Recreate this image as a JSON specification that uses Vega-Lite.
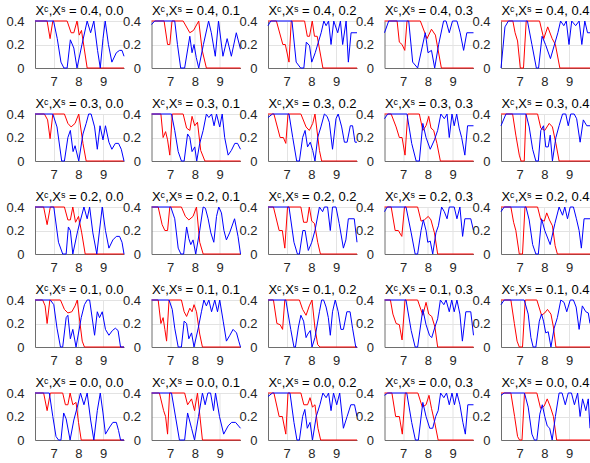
{
"$schema": "https://vega.github.io/schema/vega-lite/v6.json",
"padding": {"left": 5, "top": 5, "right": 0, "bottom": 0},
"bounds": "flush",
"data": {"values": [
{"p":"0.4, 0.0","k":"a","x":6.25,"y":0.4},{"p":"0.4, 0.0","k":"a","x":6.74,"y":0.4},{"p":"0.4, 0.0","k":"a","x":6.86,"y":0.25},{"p":"0.4, 0.0","k":"a","x":6.97,"y":0.4},{"p":"0.4, 0.0","k":"a","x":7.55,"y":0.4},{"p":"0.4, 0.0","k":"a","x":7.71,"y":0.3},{"p":"0.4, 0.0","k":"a","x":7.82,"y":0.3},{"p":"0.4, 0.0","k":"a","x":7.95,"y":0.4},{"p":"0.4, 0.0","k":"a","x":8.04,"y":0.28},{"p":"0.4, 0.0","k":"a","x":8.13,"y":0.32},{"p":"0.4, 0.0","k":"a","x":8.36,"y":0},{"p":"0.4, 0.0","k":"a","x":9.85,"y":0},
{"p":"0.4, 0.0","k":"b","x":6.25,"y":0.4},{"p":"0.4, 0.0","k":"b","x":7.0,"y":0.4},{"p":"0.4, 0.0","k":"b","x":7.15,"y":0.25},{"p":"0.4, 0.0","k":"b","x":7.3,"y":0.05},{"p":"0.4, 0.0","k":"b","x":7.42,"y":0},{"p":"0.4, 0.0","k":"b","x":7.55,"y":0},{"p":"0.4, 0.0","k":"b","x":7.68,"y":0.24},{"p":"0.4, 0.0","k":"b","x":7.82,"y":0.17},{"p":"0.4, 0.0","k":"b","x":7.95,"y":0},{"p":"0.4, 0.0","k":"b","x":8.15,"y":0.2},{"p":"0.4, 0.0","k":"b","x":8.36,"y":0.4},{"p":"0.4, 0.0","k":"b","x":8.5,"y":0.3},{"p":"0.4, 0.0","k":"b","x":8.63,"y":0.4},{"p":"0.4, 0.0","k":"b","x":8.78,"y":0.15},{"p":"0.4, 0.0","k":"b","x":8.89,"y":0},{"p":"0.4, 0.0","k":"b","x":9.0,"y":0.25},{"p":"0.4, 0.0","k":"b","x":9.09,"y":0.4},{"p":"0.4, 0.0","k":"b","x":9.22,"y":0.2},{"p":"0.4, 0.0","k":"b","x":9.36,"y":0.05},{"p":"0.4, 0.0","k":"b","x":9.54,"y":0.13},{"p":"0.4, 0.0","k":"b","x":9.67,"y":0.15},{"p":"0.4, 0.0","k":"b","x":9.77,"y":0.15},{"p":"0.4, 0.0","k":"b","x":9.85,"y":0.1},

{"p":"0.4, 0.1","k":"a","x":6.25,"y":0.4},{"p":"0.4, 0.1","k":"a","x":6.76,"y":0.4},{"p":"0.4, 0.1","k":"a","x":6.9,"y":0.2},{"p":"0.4, 0.1","k":"a","x":6.99,"y":0.2},{"p":"0.4, 0.1","k":"a","x":7.08,"y":0.4},{"p":"0.4, 0.1","k":"a","x":7.53,"y":0.4},{"p":"0.4, 0.1","k":"a","x":7.8,"y":0.3},{"p":"0.4, 0.1","k":"a","x":7.95,"y":0.32},{"p":"0.4, 0.1","k":"a","x":8.16,"y":0.4},{"p":"0.4, 0.1","k":"a","x":8.3,"y":0.15},{"p":"0.4, 0.1","k":"a","x":8.47,"y":0},{"p":"0.4, 0.1","k":"a","x":9.85,"y":0},
{"p":"0.4, 0.1","k":"b","x":6.25,"y":0.37},{"p":"0.4, 0.1","k":"b","x":6.38,"y":0.4},{"p":"0.4, 0.1","k":"b","x":7.19,"y":0.4},{"p":"0.4, 0.1","k":"b","x":7.3,"y":0.2},{"p":"0.4, 0.1","k":"b","x":7.43,"y":0},{"p":"0.4, 0.1","k":"b","x":7.59,"y":0},{"p":"0.4, 0.1","k":"b","x":7.8,"y":0.27},{"p":"0.4, 0.1","k":"b","x":7.89,"y":0.13},{"p":"0.4, 0.1","k":"b","x":7.97,"y":0.2},{"p":"0.4, 0.1","k":"b","x":8.06,"y":0.09},{"p":"0.4, 0.1","k":"b","x":8.16,"y":0},{"p":"0.4, 0.1","k":"b","x":8.35,"y":0.2},{"p":"0.4, 0.1","k":"b","x":8.56,"y":0.4},{"p":"0.4, 0.1","k":"b","x":8.67,"y":0.3},{"p":"0.4, 0.1","k":"b","x":8.83,"y":0.1},{"p":"0.4, 0.1","k":"b","x":8.96,"y":0.4},{"p":"0.4, 0.1","k":"b","x":9.14,"y":0.1},{"p":"0.4, 0.1","k":"b","x":9.31,"y":0.25},{"p":"0.4, 0.1","k":"b","x":9.48,"y":0.1},{"p":"0.4, 0.1","k":"b","x":9.68,"y":0.3},{"p":"0.4, 0.1","k":"b","x":9.85,"y":0.16},

{"p":"0.4, 0.2","k":"a","x":6.25,"y":0.4},{"p":"0.4, 0.2","k":"a","x":6.59,"y":0.4},{"p":"0.4, 0.2","k":"a","x":6.85,"y":0.2},{"p":"0.4, 0.2","k":"a","x":6.95,"y":0.2},{"p":"0.4, 0.2","k":"a","x":7.1,"y":0.05},{"p":"0.4, 0.2","k":"a","x":7.19,"y":0.4},{"p":"0.4, 0.2","k":"a","x":7.73,"y":0.4},{"p":"0.4, 0.2","k":"a","x":7.84,"y":0.27},{"p":"0.4, 0.2","k":"a","x":7.93,"y":0.27},{"p":"0.4, 0.2","k":"a","x":8.04,"y":0.4},{"p":"0.4, 0.2","k":"a","x":8.13,"y":0.27},{"p":"0.4, 0.2","k":"a","x":8.24,"y":0.27},{"p":"0.4, 0.2","k":"a","x":8.47,"y":0},{"p":"0.4, 0.2","k":"a","x":9.85,"y":0},
{"p":"0.4, 0.2","k":"b","x":6.25,"y":0.36},{"p":"0.4, 0.2","k":"b","x":6.36,"y":0.4},{"p":"0.4, 0.2","k":"b","x":7.22,"y":0.4},{"p":"0.4, 0.2","k":"b","x":7.39,"y":0.05},{"p":"0.4, 0.2","k":"b","x":7.57,"y":0},{"p":"0.4, 0.2","k":"b","x":7.7,"y":0},{"p":"0.4, 0.2","k":"b","x":7.8,"y":0.22},{"p":"0.4, 0.2","k":"b","x":7.93,"y":0.19},{"p":"0.4, 0.2","k":"b","x":8.02,"y":0.05},{"p":"0.4, 0.2","k":"b","x":8.16,"y":0.13},{"p":"0.4, 0.2","k":"b","x":8.4,"y":0.3},{"p":"0.4, 0.2","k":"b","x":8.51,"y":0.4},{"p":"0.4, 0.2","k":"b","x":8.6,"y":0.36},{"p":"0.4, 0.2","k":"b","x":8.7,"y":0.4},{"p":"0.4, 0.2","k":"b","x":8.8,"y":0.2},{"p":"0.4, 0.2","k":"b","x":8.91,"y":0.4},{"p":"0.4, 0.2","k":"b","x":9.07,"y":0.3},{"p":"0.4, 0.2","k":"b","x":9.18,"y":0.4},{"p":"0.4, 0.2","k":"b","x":9.27,"y":0.2},{"p":"0.4, 0.2","k":"b","x":9.41,"y":0.4},{"p":"0.4, 0.2","k":"b","x":9.5,"y":0.05},{"p":"0.4, 0.2","k":"b","x":9.61,"y":0.3},{"p":"0.4, 0.2","k":"b","x":9.85,"y":0.3},

{"p":"0.4, 0.3","k":"a","x":6.25,"y":0.4},{"p":"0.4, 0.3","k":"a","x":6.76,"y":0.4},{"p":"0.4, 0.3","k":"a","x":6.85,"y":0.22},{"p":"0.4, 0.3","k":"a","x":6.96,"y":0.2},{"p":"0.4, 0.3","k":"a","x":7.07,"y":0.15},{"p":"0.4, 0.3","k":"a","x":7.16,"y":0.4},{"p":"0.4, 0.3","k":"a","x":7.7,"y":0.4},{"p":"0.4, 0.3","k":"a","x":7.97,"y":0.25},{"p":"0.4, 0.3","k":"a","x":8.15,"y":0.33},{"p":"0.4, 0.3","k":"a","x":8.31,"y":0.28},{"p":"0.4, 0.3","k":"a","x":8.55,"y":0},{"p":"0.4, 0.3","k":"a","x":9.85,"y":0},
{"p":"0.4, 0.3","k":"b","x":6.25,"y":0.3},{"p":"0.4, 0.3","k":"b","x":6.42,"y":0.4},{"p":"0.4, 0.3","k":"b","x":7.23,"y":0.4},{"p":"0.4, 0.3","k":"b","x":7.39,"y":0.05},{"p":"0.4, 0.3","k":"b","x":7.59,"y":0},{"p":"0.4, 0.3","k":"b","x":7.9,"y":0.3},{"p":"0.4, 0.3","k":"b","x":8.01,"y":0.13},{"p":"0.4, 0.3","k":"b","x":8.15,"y":0.15},{"p":"0.4, 0.3","k":"b","x":8.28,"y":0},{"p":"0.4, 0.3","k":"b","x":8.44,"y":0.2},{"p":"0.4, 0.3","k":"b","x":8.64,"y":0.4},{"p":"0.4, 0.3","k":"b","x":8.74,"y":0.4},{"p":"0.4, 0.3","k":"b","x":8.87,"y":0.3},{"p":"0.4, 0.3","k":"b","x":9.0,"y":0.4},{"p":"0.4, 0.3","k":"b","x":9.18,"y":0.4},{"p":"0.4, 0.3","k":"b","x":9.31,"y":0.3},{"p":"0.4, 0.3","k":"b","x":9.45,"y":0.15},{"p":"0.4, 0.3","k":"b","x":9.58,"y":0.3},{"p":"0.4, 0.3","k":"b","x":9.85,"y":0.3},

{"p":"0.4, 0.4","k":"a","x":6.25,"y":0.4},{"p":"0.4, 0.4","k":"a","x":6.73,"y":0.4},{"p":"0.4, 0.4","k":"a","x":6.82,"y":0.3},{"p":"0.4, 0.4","k":"a","x":6.92,"y":0.23},{"p":"0.4, 0.4","k":"a","x":7.03,"y":0},{"p":"0.4, 0.4","k":"a","x":7.16,"y":0},{"p":"0.4, 0.4","k":"a","x":7.27,"y":0.4},{"p":"0.4, 0.4","k":"a","x":7.81,"y":0.4},{"p":"0.4, 0.4","k":"a","x":7.98,"y":0.25},{"p":"0.4, 0.4","k":"a","x":8.14,"y":0.35},{"p":"0.4, 0.4","k":"a","x":8.32,"y":0.25},{"p":"0.4, 0.4","k":"a","x":8.45,"y":0.2},{"p":"0.4, 0.4","k":"a","x":8.63,"y":0},{"p":"0.4, 0.4","k":"a","x":9.85,"y":0},
{"p":"0.4, 0.4","k":"b","x":6.25,"y":0},{"p":"0.4, 0.4","k":"b","x":6.41,"y":0.35},{"p":"0.4, 0.4","k":"b","x":6.55,"y":0.4},{"p":"0.4, 0.4","k":"b","x":7.32,"y":0.4},{"p":"0.4, 0.4","k":"b","x":7.5,"y":0.2},{"p":"0.4, 0.4","k":"b","x":7.68,"y":0},{"p":"0.4, 0.4","k":"b","x":7.77,"y":0},{"p":"0.4, 0.4","k":"b","x":7.91,"y":0.27},{"p":"0.4, 0.4","k":"b","x":8.05,"y":0.2},{"p":"0.4, 0.4","k":"b","x":8.25,"y":0.08},{"p":"0.4, 0.4","k":"b","x":8.55,"y":0.3},{"p":"0.4, 0.4","k":"b","x":8.66,"y":0.4},{"p":"0.4, 0.4","k":"b","x":8.79,"y":0.36},{"p":"0.4, 0.4","k":"b","x":8.89,"y":0.4},{"p":"0.4, 0.4","k":"b","x":9.0,"y":0.2},{"p":"0.4, 0.4","k":"b","x":9.11,"y":0.4},{"p":"0.4, 0.4","k":"b","x":9.27,"y":0.36},{"p":"0.4, 0.4","k":"b","x":9.41,"y":0.4},{"p":"0.4, 0.4","k":"b","x":9.52,"y":0.2},{"p":"0.4, 0.4","k":"b","x":9.64,"y":0.4},{"p":"0.4, 0.4","k":"b","x":9.75,"y":0.3},{"p":"0.4, 0.4","k":"b","x":9.85,"y":0.3},

{"p":"0.3, 0.0","k":"a","x":6.25,"y":0.4},{"p":"0.3, 0.0","k":"a","x":6.63,"y":0.4},{"p":"0.3, 0.0","k":"a","x":6.76,"y":0.35},{"p":"0.3, 0.0","k":"a","x":6.86,"y":0.19},{"p":"0.3, 0.0","k":"a","x":6.97,"y":0.4},{"p":"0.3, 0.0","k":"a","x":7.44,"y":0.4},{"p":"0.3, 0.0","k":"a","x":7.58,"y":0.32},{"p":"0.3, 0.0","k":"a","x":7.71,"y":0.29},{"p":"0.3, 0.0","k":"a","x":7.87,"y":0.32},{"p":"0.3, 0.0","k":"a","x":8.02,"y":0.4},{"p":"0.3, 0.0","k":"a","x":8.19,"y":0.15},{"p":"0.3, 0.0","k":"a","x":8.32,"y":0},{"p":"0.3, 0.0","k":"a","x":9.85,"y":0},
{"p":"0.3, 0.0","k":"b","x":6.25,"y":0.4},{"p":"0.3, 0.0","k":"b","x":6.97,"y":0.4},{"p":"0.3, 0.0","k":"b","x":7.14,"y":0.29},{"p":"0.3, 0.0","k":"b","x":7.33,"y":0},{"p":"0.3, 0.0","k":"b","x":7.44,"y":0},{"p":"0.3, 0.0","k":"b","x":7.58,"y":0.2},{"p":"0.3, 0.0","k":"b","x":7.68,"y":0.26},{"p":"0.3, 0.0","k":"b","x":7.79,"y":0.08},{"p":"0.3, 0.0","k":"b","x":7.87,"y":0.13},{"p":"0.3, 0.0","k":"b","x":8.02,"y":0},{"p":"0.3, 0.0","k":"b","x":8.19,"y":0.23},{"p":"0.3, 0.0","k":"b","x":8.32,"y":0.32},{"p":"0.3, 0.0","k":"b","x":8.42,"y":0.4},{"p":"0.3, 0.0","k":"b","x":8.52,"y":0.4},{"p":"0.3, 0.0","k":"b","x":8.66,"y":0.29},{"p":"0.3, 0.0","k":"b","x":8.77,"y":0.1},{"p":"0.3, 0.0","k":"b","x":8.88,"y":0.3},{"p":"0.3, 0.0","k":"b","x":9.0,"y":0.18},{"p":"0.3, 0.0","k":"b","x":9.1,"y":0.3},{"p":"0.3, 0.0","k":"b","x":9.24,"y":0.16},{"p":"0.3, 0.0","k":"b","x":9.36,"y":0.1},{"p":"0.3, 0.0","k":"b","x":9.5,"y":0.15},{"p":"0.3, 0.0","k":"b","x":9.63,"y":0.15},{"p":"0.3, 0.0","k":"b","x":9.74,"y":0.1},{"p":"0.3, 0.0","k":"b","x":9.85,"y":0},

{"p":"0.3, 0.1","k":"a","x":6.25,"y":0.4},{"p":"0.3, 0.1","k":"a","x":6.63,"y":0.4},{"p":"0.3, 0.1","k":"a","x":6.72,"y":0.2},{"p":"0.3, 0.1","k":"a","x":6.82,"y":0.25},{"p":"0.3, 0.1","k":"a","x":6.9,"y":0.18},{"p":"0.3, 0.1","k":"a","x":6.99,"y":0.05},{"p":"0.3, 0.1","k":"a","x":7.09,"y":0.4},{"p":"0.3, 0.1","k":"a","x":7.53,"y":0.4},{"p":"0.3, 0.1","k":"a","x":7.67,"y":0.28},{"p":"0.3, 0.1","k":"a","x":7.8,"y":0.26},{"p":"0.3, 0.1","k":"a","x":7.89,"y":0.38},{"p":"0.3, 0.1","k":"a","x":8.0,"y":0.3},{"p":"0.3, 0.1","k":"a","x":8.11,"y":0.33},{"p":"0.3, 0.1","k":"a","x":8.24,"y":0.09},{"p":"0.3, 0.1","k":"a","x":8.41,"y":0},{"p":"0.3, 0.1","k":"a","x":9.85,"y":0},
{"p":"0.3, 0.1","k":"b","x":6.25,"y":0.4},{"p":"0.3, 0.1","k":"b","x":7.06,"y":0.4},{"p":"0.3, 0.1","k":"b","x":7.19,"y":0.26},{"p":"0.3, 0.1","k":"b","x":7.33,"y":0.08},{"p":"0.3, 0.1","k":"b","x":7.46,"y":0},{"p":"0.3, 0.1","k":"b","x":7.57,"y":0},{"p":"0.3, 0.1","k":"b","x":7.71,"y":0.23},{"p":"0.3, 0.1","k":"b","x":7.8,"y":0.2},{"p":"0.3, 0.1","k":"b","x":7.89,"y":0.08},{"p":"0.3, 0.1","k":"b","x":8.0,"y":0.12},{"p":"0.3, 0.1","k":"b","x":8.08,"y":0},{"p":"0.3, 0.1","k":"b","x":8.2,"y":0.15},{"p":"0.3, 0.1","k":"b","x":8.34,"y":0.26},{"p":"0.3, 0.1","k":"b","x":8.47,"y":0.4},{"p":"0.3, 0.1","k":"b","x":8.57,"y":0.37},{"p":"0.3, 0.1","k":"b","x":8.68,"y":0.4},{"p":"0.3, 0.1","k":"b","x":8.78,"y":0.3},{"p":"0.3, 0.1","k":"b","x":8.88,"y":0.4},{"p":"0.3, 0.1","k":"b","x":9.01,"y":0.29},{"p":"0.3, 0.1","k":"b","x":9.11,"y":0.4},{"p":"0.3, 0.1","k":"b","x":9.21,"y":0.2},{"p":"0.3, 0.1","k":"b","x":9.35,"y":0.05},{"p":"0.3, 0.1","k":"b","x":9.48,"y":0.09},{"p":"0.3, 0.1","k":"b","x":9.62,"y":0.15},{"p":"0.3, 0.1","k":"b","x":9.73,"y":0.15},{"p":"0.3, 0.1","k":"b","x":9.85,"y":0.1},

{"p":"0.3, 0.2","k":"a","x":6.25,"y":0.4},{"p":"0.3, 0.2","k":"a","x":6.49,"y":0.4},{"p":"0.3, 0.2","k":"a","x":6.74,"y":0.2},{"p":"0.3, 0.2","k":"a","x":6.87,"y":0.2},{"p":"0.3, 0.2","k":"a","x":6.97,"y":0.15},{"p":"0.3, 0.2","k":"a","x":7.06,"y":0.4},{"p":"0.3, 0.2","k":"a","x":7.58,"y":0.4},{"p":"0.3, 0.2","k":"a","x":7.79,"y":0.29},{"p":"0.3, 0.2","k":"a","x":7.92,"y":0.26},{"p":"0.3, 0.2","k":"a","x":8.06,"y":0.32},{"p":"0.3, 0.2","k":"a","x":8.15,"y":0.4},{"p":"0.3, 0.2","k":"a","x":8.33,"y":0.09},{"p":"0.3, 0.2","k":"a","x":8.42,"y":0},{"p":"0.3, 0.2","k":"a","x":9.85,"y":0},
{"p":"0.3, 0.2","k":"b","x":6.25,"y":0.37},{"p":"0.3, 0.2","k":"b","x":6.43,"y":0.4},{"p":"0.3, 0.2","k":"b","x":7.1,"y":0.4},{"p":"0.3, 0.2","k":"b","x":7.25,"y":0.2},{"p":"0.3, 0.2","k":"b","x":7.41,"y":0},{"p":"0.3, 0.2","k":"b","x":7.52,"y":0},{"p":"0.3, 0.2","k":"b","x":7.65,"y":0.2},{"p":"0.3, 0.2","k":"b","x":7.75,"y":0.26},{"p":"0.3, 0.2","k":"b","x":7.85,"y":0.12},{"p":"0.3, 0.2","k":"b","x":7.96,"y":0.16},{"p":"0.3, 0.2","k":"b","x":8.06,"y":0.09},{"p":"0.3, 0.2","k":"b","x":8.15,"y":0},{"p":"0.3, 0.2","k":"b","x":8.26,"y":0.2},{"p":"0.3, 0.2","k":"b","x":8.39,"y":0.29},{"p":"0.3, 0.2","k":"b","x":8.53,"y":0.4},{"p":"0.3, 0.2","k":"b","x":8.64,"y":0.38},{"p":"0.3, 0.2","k":"b","x":8.73,"y":0.33},{"p":"0.3, 0.2","k":"b","x":8.86,"y":0.1},{"p":"0.3, 0.2","k":"b","x":9.0,"y":0.36},{"p":"0.3, 0.2","k":"b","x":9.09,"y":0.4},{"p":"0.3, 0.2","k":"b","x":9.23,"y":0.29},{"p":"0.3, 0.2","k":"b","x":9.34,"y":0.16},{"p":"0.3, 0.2","k":"b","x":9.45,"y":0.16},{"p":"0.3, 0.2","k":"b","x":9.58,"y":0.3},{"p":"0.3, 0.2","k":"b","x":9.67,"y":0.3},{"p":"0.3, 0.2","k":"b","x":9.77,"y":0.16},{"p":"0.3, 0.2","k":"b","x":9.85,"y":0.16},

{"p":"0.3, 0.3","k":"a","x":6.25,"y":0.4},{"p":"0.3, 0.3","k":"a","x":6.52,"y":0.4},{"p":"0.3, 0.3","k":"a","x":6.72,"y":0.29},{"p":"0.3, 0.3","k":"a","x":6.85,"y":0.2},{"p":"0.3, 0.3","k":"a","x":6.96,"y":0.2},{"p":"0.3, 0.3","k":"a","x":7.08,"y":0.05},{"p":"0.3, 0.3","k":"a","x":7.19,"y":0.4},{"p":"0.3, 0.3","k":"a","x":7.66,"y":0.4},{"p":"0.3, 0.3","k":"a","x":7.8,"y":0.26},{"p":"0.3, 0.3","k":"a","x":7.93,"y":0.3},{"p":"0.3, 0.3","k":"a","x":8.04,"y":0.38},{"p":"0.3, 0.3","k":"a","x":8.13,"y":0.28},{"p":"0.3, 0.3","k":"a","x":8.24,"y":0.26},{"p":"0.3, 0.3","k":"a","x":8.37,"y":0.15},{"p":"0.3, 0.3","k":"a","x":8.51,"y":0},{"p":"0.3, 0.3","k":"a","x":9.85,"y":0},
{"p":"0.3, 0.3","k":"b","x":6.25,"y":0.36},{"p":"0.3, 0.3","k":"b","x":6.38,"y":0.4},{"p":"0.3, 0.3","k":"b","x":7.16,"y":0.4},{"p":"0.3, 0.3","k":"b","x":7.35,"y":0.15},{"p":"0.3, 0.3","k":"b","x":7.53,"y":0},{"p":"0.3, 0.3","k":"b","x":7.66,"y":0},{"p":"0.3, 0.3","k":"b","x":7.8,"y":0.32},{"p":"0.3, 0.3","k":"b","x":7.93,"y":0.2},{"p":"0.3, 0.3","k":"b","x":8.1,"y":0.1},{"p":"0.3, 0.3","k":"b","x":8.27,"y":0.18},{"p":"0.3, 0.3","k":"b","x":8.4,"y":0.26},{"p":"0.3, 0.3","k":"b","x":8.53,"y":0.4},{"p":"0.3, 0.3","k":"b","x":8.67,"y":0.36},{"p":"0.3, 0.3","k":"b","x":8.78,"y":0.4},{"p":"0.3, 0.3","k":"b","x":8.87,"y":0.2},{"p":"0.3, 0.3","k":"b","x":8.98,"y":0.4},{"p":"0.3, 0.3","k":"b","x":9.07,"y":0.3},{"p":"0.3, 0.3","k":"b","x":9.17,"y":0.4},{"p":"0.3, 0.3","k":"b","x":9.27,"y":0.28},{"p":"0.3, 0.3","k":"b","x":9.37,"y":0.2},{"p":"0.3, 0.3","k":"b","x":9.5,"y":0.05},{"p":"0.3, 0.3","k":"b","x":9.61,"y":0.3},{"p":"0.3, 0.3","k":"b","x":9.85,"y":0.3},

{"p":"0.3, 0.4","k":"a","x":6.25,"y":0.4},{"p":"0.3, 0.4","k":"a","x":6.72,"y":0.4},{"p":"0.3, 0.4","k":"a","x":6.85,"y":0.22},{"p":"0.3, 0.4","k":"a","x":6.99,"y":0.05},{"p":"0.3, 0.4","k":"a","x":7.06,"y":0},{"p":"0.3, 0.4","k":"a","x":7.19,"y":0},{"p":"0.3, 0.4","k":"a","x":7.26,"y":0.4},{"p":"0.3, 0.4","k":"a","x":7.73,"y":0.4},{"p":"0.3, 0.4","k":"a","x":7.86,"y":0.28},{"p":"0.3, 0.4","k":"a","x":8.02,"y":0.26},{"p":"0.3, 0.4","k":"a","x":8.2,"y":0.32},{"p":"0.3, 0.4","k":"a","x":8.33,"y":0.29},{"p":"0.3, 0.4","k":"a","x":8.47,"y":0.15},{"p":"0.3, 0.4","k":"a","x":8.6,"y":0},{"p":"0.3, 0.4","k":"a","x":9.85,"y":0},
{"p":"0.3, 0.4","k":"b","x":6.25,"y":0.3},{"p":"0.3, 0.4","k":"b","x":6.45,"y":0.4},{"p":"0.3, 0.4","k":"b","x":7.26,"y":0.4},{"p":"0.3, 0.4","k":"b","x":7.39,"y":0.29},{"p":"0.3, 0.4","k":"b","x":7.53,"y":0.1},{"p":"0.3, 0.4","k":"b","x":7.66,"y":0},{"p":"0.3, 0.4","k":"b","x":7.76,"y":0},{"p":"0.3, 0.4","k":"b","x":7.86,"y":0.26},{"p":"0.3, 0.4","k":"b","x":7.97,"y":0.3},{"p":"0.3, 0.4","k":"b","x":8.06,"y":0.12},{"p":"0.3, 0.4","k":"b","x":8.16,"y":0.12},{"p":"0.3, 0.4","k":"b","x":8.24,"y":0.22},{"p":"0.3, 0.4","k":"b","x":8.33,"y":0},{"p":"0.3, 0.4","k":"b","x":8.47,"y":0.2},{"p":"0.3, 0.4","k":"b","x":8.6,"y":0.3},{"p":"0.3, 0.4","k":"b","x":8.74,"y":0.4},{"p":"0.3, 0.4","k":"b","x":8.87,"y":0.4},{"p":"0.3, 0.4","k":"b","x":8.97,"y":0.3},{"p":"0.3, 0.4","k":"b","x":9.07,"y":0.4},{"p":"0.3, 0.4","k":"b","x":9.21,"y":0.4},{"p":"0.3, 0.4","k":"b","x":9.31,"y":0.36},{"p":"0.3, 0.4","k":"b","x":9.45,"y":0.16},{"p":"0.3, 0.4","k":"b","x":9.58,"y":0.35},{"p":"0.3, 0.4","k":"b","x":9.72,"y":0.3},{"p":"0.3, 0.4","k":"b","x":9.85,"y":0.3},

{"p":"0.2, 0.0","k":"a","x":6.25,"y":0.4},{"p":"0.2, 0.0","k":"a","x":6.6,"y":0.4},{"p":"0.2, 0.0","k":"a","x":6.74,"y":0.25},{"p":"0.2, 0.0","k":"a","x":6.87,"y":0.4},{"p":"0.2, 0.0","k":"a","x":7.44,"y":0.4},{"p":"0.2, 0.0","k":"a","x":7.58,"y":0.29},{"p":"0.2, 0.0","k":"a","x":7.68,"y":0.29},{"p":"0.2, 0.0","k":"a","x":7.78,"y":0.4},{"p":"0.2, 0.0","k":"a","x":7.89,"y":0.27},{"p":"0.2, 0.0","k":"a","x":8.01,"y":0.32},{"p":"0.2, 0.0","k":"a","x":8.14,"y":0.18},{"p":"0.2, 0.0","k":"a","x":8.28,"y":0},{"p":"0.2, 0.0","k":"a","x":9.85,"y":0},
{"p":"0.2, 0.0","k":"b","x":6.25,"y":0.4},{"p":"0.2, 0.0","k":"b","x":7.01,"y":0.4},{"p":"0.2, 0.0","k":"b","x":7.2,"y":0.1},{"p":"0.2, 0.0","k":"b","x":7.37,"y":0},{"p":"0.2, 0.0","k":"b","x":7.51,"y":0},{"p":"0.2, 0.0","k":"b","x":7.6,"y":0.23},{"p":"0.2, 0.0","k":"b","x":7.68,"y":0.2},{"p":"0.2, 0.0","k":"b","x":7.78,"y":0},{"p":"0.2, 0.0","k":"b","x":7.98,"y":0.2},{"p":"0.2, 0.0","k":"b","x":8.23,"y":0.4},{"p":"0.2, 0.0","k":"b","x":8.36,"y":0.3},{"p":"0.2, 0.0","k":"b","x":8.46,"y":0.4},{"p":"0.2, 0.0","k":"b","x":8.59,"y":0.18},{"p":"0.2, 0.0","k":"b","x":8.75,"y":0},{"p":"0.2, 0.0","k":"b","x":8.97,"y":0.4},{"p":"0.2, 0.0","k":"b","x":9.1,"y":0.2},{"p":"0.2, 0.0","k":"b","x":9.24,"y":0.05},{"p":"0.2, 0.0","k":"b","x":9.4,"y":0.12},{"p":"0.2, 0.0","k":"b","x":9.54,"y":0.15},{"p":"0.2, 0.0","k":"b","x":9.67,"y":0.15},{"p":"0.2, 0.0","k":"b","x":9.77,"y":0.1},{"p":"0.2, 0.0","k":"b","x":9.85,"y":0},

{"p":"0.2, 0.1","k":"a","x":6.25,"y":0.4},{"p":"0.2, 0.1","k":"a","x":6.52,"y":0.4},{"p":"0.2, 0.1","k":"a","x":6.68,"y":0.25},{"p":"0.2, 0.1","k":"a","x":6.79,"y":0.2},{"p":"0.2, 0.1","k":"a","x":6.9,"y":0.2},{"p":"0.2, 0.1","k":"a","x":6.99,"y":0.4},{"p":"0.2, 0.1","k":"a","x":7.46,"y":0.4},{"p":"0.2, 0.1","k":"a","x":7.62,"y":0.32},{"p":"0.2, 0.1","k":"a","x":7.76,"y":0.29},{"p":"0.2, 0.1","k":"a","x":7.93,"y":0.32},{"p":"0.2, 0.1","k":"a","x":8.07,"y":0.4},{"p":"0.2, 0.1","k":"a","x":8.2,"y":0.1},{"p":"0.2, 0.1","k":"a","x":8.34,"y":0},{"p":"0.2, 0.1","k":"a","x":9.85,"y":0},
{"p":"0.2, 0.1","k":"b","x":6.25,"y":0.4},{"p":"0.2, 0.1","k":"b","x":7.03,"y":0.4},{"p":"0.2, 0.1","k":"b","x":7.19,"y":0.3},{"p":"0.2, 0.1","k":"b","x":7.33,"y":0.05},{"p":"0.2, 0.1","k":"b","x":7.44,"y":0},{"p":"0.2, 0.1","k":"b","x":7.55,"y":0},{"p":"0.2, 0.1","k":"b","x":7.67,"y":0.23},{"p":"0.2, 0.1","k":"b","x":7.76,"y":0.13},{"p":"0.2, 0.1","k":"b","x":7.84,"y":0.08},{"p":"0.2, 0.1","k":"b","x":7.93,"y":0.12},{"p":"0.2, 0.1","k":"b","x":8.04,"y":0},{"p":"0.2, 0.1","k":"b","x":8.2,"y":0.2},{"p":"0.2, 0.1","k":"b","x":8.34,"y":0.4},{"p":"0.2, 0.1","k":"b","x":8.43,"y":0.39},{"p":"0.2, 0.1","k":"b","x":8.54,"y":0.3},{"p":"0.2, 0.1","k":"b","x":8.65,"y":0.18},{"p":"0.2, 0.1","k":"b","x":8.77,"y":0.1},{"p":"0.2, 0.1","k":"b","x":8.88,"y":0.32},{"p":"0.2, 0.1","k":"b","x":8.97,"y":0.4},{"p":"0.2, 0.1","k":"b","x":9.08,"y":0.35},{"p":"0.2, 0.1","k":"b","x":9.18,"y":0.2},{"p":"0.2, 0.1","k":"b","x":9.28,"y":0.12},{"p":"0.2, 0.1","k":"b","x":9.41,"y":0.18},{"p":"0.2, 0.1","k":"b","x":9.61,"y":0.3},{"p":"0.2, 0.1","k":"b","x":9.75,"y":0.15},{"p":"0.2, 0.1","k":"b","x":9.85,"y":0},

{"p":"0.2, 0.2","k":"a","x":6.25,"y":0.4},{"p":"0.2, 0.2","k":"a","x":6.47,"y":0.4},{"p":"0.2, 0.2","k":"a","x":6.7,"y":0.2},{"p":"0.2, 0.2","k":"a","x":6.83,"y":0.2},{"p":"0.2, 0.2","k":"a","x":6.93,"y":0.05},{"p":"0.2, 0.2","k":"a","x":7.04,"y":0.4},{"p":"0.2, 0.2","k":"a","x":7.58,"y":0.4},{"p":"0.2, 0.2","k":"a","x":7.69,"y":0.27},{"p":"0.2, 0.2","k":"a","x":7.83,"y":0.27},{"p":"0.2, 0.2","k":"a","x":7.92,"y":0.4},{"p":"0.2, 0.2","k":"a","x":8.02,"y":0.28},{"p":"0.2, 0.2","k":"a","x":8.13,"y":0.26},{"p":"0.2, 0.2","k":"a","x":8.26,"y":0.1},{"p":"0.2, 0.2","k":"a","x":8.37,"y":0},{"p":"0.2, 0.2","k":"a","x":9.85,"y":0},
{"p":"0.2, 0.2","k":"b","x":6.25,"y":0.4},{"p":"0.2, 0.2","k":"b","x":7.1,"y":0.4},{"p":"0.2, 0.2","k":"b","x":7.3,"y":0.1},{"p":"0.2, 0.2","k":"b","x":7.44,"y":0},{"p":"0.2, 0.2","k":"b","x":7.52,"y":0},{"p":"0.2, 0.2","k":"b","x":7.66,"y":0.2},{"p":"0.2, 0.2","k":"b","x":7.75,"y":0.2},{"p":"0.2, 0.2","k":"b","x":7.88,"y":0.03},{"p":"0.2, 0.2","k":"b","x":8.02,"y":0.1},{"p":"0.2, 0.2","k":"b","x":8.15,"y":0.2},{"p":"0.2, 0.2","k":"b","x":8.33,"y":0.4},{"p":"0.2, 0.2","k":"b","x":8.46,"y":0.36},{"p":"0.2, 0.2","k":"b","x":8.53,"y":0.4},{"p":"0.2, 0.2","k":"b","x":8.66,"y":0.4},{"p":"0.2, 0.2","k":"b","x":8.77,"y":0.2},{"p":"0.2, 0.2","k":"b","x":8.86,"y":0.4},{"p":"0.2, 0.2","k":"b","x":9.0,"y":0.4},{"p":"0.2, 0.2","k":"b","x":9.13,"y":0.26},{"p":"0.2, 0.2","k":"b","x":9.3,"y":0.05},{"p":"0.2, 0.2","k":"b","x":9.4,"y":0.12},{"p":"0.2, 0.2","k":"b","x":9.5,"y":0.3},{"p":"0.2, 0.2","k":"b","x":9.74,"y":0.3},{"p":"0.2, 0.2","k":"b","x":9.85,"y":0.1},

{"p":"0.2, 0.3","k":"a","x":6.25,"y":0.4},{"p":"0.2, 0.3","k":"a","x":6.52,"y":0.4},{"p":"0.2, 0.3","k":"a","x":6.68,"y":0.2},{"p":"0.2, 0.3","k":"a","x":6.81,"y":0.2},{"p":"0.2, 0.3","k":"a","x":6.95,"y":0.15},{"p":"0.2, 0.3","k":"a","x":7.06,"y":0.4},{"p":"0.2, 0.3","k":"a","x":7.59,"y":0.4},{"p":"0.2, 0.3","k":"a","x":7.73,"y":0.28},{"p":"0.2, 0.3","k":"a","x":7.86,"y":0.29},{"p":"0.2, 0.3","k":"a","x":8.02,"y":0.32},{"p":"0.2, 0.3","k":"a","x":8.13,"y":0.29},{"p":"0.2, 0.3","k":"a","x":8.27,"y":0.18},{"p":"0.2, 0.3","k":"a","x":8.4,"y":0},{"p":"0.2, 0.3","k":"a","x":9.85,"y":0},
{"p":"0.2, 0.3","k":"b","x":6.25,"y":0.36},{"p":"0.2, 0.3","k":"b","x":6.36,"y":0.4},{"p":"0.2, 0.3","k":"b","x":7.12,"y":0.4},{"p":"0.2, 0.3","k":"b","x":7.33,"y":0.18},{"p":"0.2, 0.3","k":"b","x":7.49,"y":0},{"p":"0.2, 0.3","k":"b","x":7.59,"y":0},{"p":"0.2, 0.3","k":"b","x":7.73,"y":0.2},{"p":"0.2, 0.3","k":"b","x":7.82,"y":0.29},{"p":"0.2, 0.3","k":"b","x":7.93,"y":0.2},{"p":"0.2, 0.3","k":"b","x":8.0,"y":0.1},{"p":"0.2, 0.3","k":"b","x":8.1,"y":0.11},{"p":"0.2, 0.3","k":"b","x":8.2,"y":0},{"p":"0.2, 0.3","k":"b","x":8.33,"y":0.18},{"p":"0.2, 0.3","k":"b","x":8.43,"y":0.24},{"p":"0.2, 0.3","k":"b","x":8.56,"y":0.4},{"p":"0.2, 0.3","k":"b","x":8.67,"y":0.36},{"p":"0.2, 0.3","k":"b","x":8.78,"y":0.3},{"p":"0.2, 0.3","k":"b","x":8.87,"y":0.4},{"p":"0.2, 0.3","k":"b","x":9.07,"y":0.4},{"p":"0.2, 0.3","k":"b","x":9.18,"y":0.3},{"p":"0.2, 0.3","k":"b","x":9.3,"y":0.4},{"p":"0.2, 0.3","k":"b","x":9.41,"y":0.15},{"p":"0.2, 0.3","k":"b","x":9.5,"y":0.3},{"p":"0.2, 0.3","k":"b","x":9.74,"y":0.3},{"p":"0.2, 0.3","k":"b","x":9.85,"y":0.2},

{"p":"0.2, 0.4","k":"a","x":6.25,"y":0.4},{"p":"0.2, 0.4","k":"a","x":6.65,"y":0.4},{"p":"0.2, 0.4","k":"a","x":6.76,"y":0.27},{"p":"0.2, 0.4","k":"a","x":6.85,"y":0.2},{"p":"0.2, 0.4","k":"a","x":6.99,"y":0},{"p":"0.2, 0.4","k":"a","x":7.12,"y":0},{"p":"0.2, 0.4","k":"a","x":7.22,"y":0.4},{"p":"0.2, 0.4","k":"a","x":7.73,"y":0.4},{"p":"0.2, 0.4","k":"a","x":7.86,"y":0.29},{"p":"0.2, 0.4","k":"a","x":8.0,"y":0.28},{"p":"0.2, 0.4","k":"a","x":8.1,"y":0.35},{"p":"0.2, 0.4","k":"a","x":8.21,"y":0.29},{"p":"0.2, 0.4","k":"a","x":8.33,"y":0.24},{"p":"0.2, 0.4","k":"a","x":8.44,"y":0.07},{"p":"0.2, 0.4","k":"a","x":8.53,"y":0},{"p":"0.2, 0.4","k":"a","x":9.85,"y":0},
{"p":"0.2, 0.4","k":"b","x":6.25,"y":0.36},{"p":"0.2, 0.4","k":"b","x":6.38,"y":0.4},{"p":"0.2, 0.4","k":"b","x":7.26,"y":0.4},{"p":"0.2, 0.4","k":"b","x":7.39,"y":0.29},{"p":"0.2, 0.4","k":"b","x":7.53,"y":0.08},{"p":"0.2, 0.4","k":"b","x":7.66,"y":0},{"p":"0.2, 0.4","k":"b","x":7.76,"y":0},{"p":"0.2, 0.4","k":"b","x":7.89,"y":0.3},{"p":"0.2, 0.4","k":"b","x":8.02,"y":0.2},{"p":"0.2, 0.4","k":"b","x":8.24,"y":0.08},{"p":"0.2, 0.4","k":"b","x":8.43,"y":0.26},{"p":"0.2, 0.4","k":"b","x":8.6,"y":0.4},{"p":"0.2, 0.4","k":"b","x":8.74,"y":0.33},{"p":"0.2, 0.4","k":"b","x":8.83,"y":0.4},{"p":"0.2, 0.4","k":"b","x":8.94,"y":0.3},{"p":"0.2, 0.4","k":"b","x":9.05,"y":0.4},{"p":"0.2, 0.4","k":"b","x":9.18,"y":0.4},{"p":"0.2, 0.4","k":"b","x":9.3,"y":0.3},{"p":"0.2, 0.4","k":"b","x":9.41,"y":0.2},{"p":"0.2, 0.4","k":"b","x":9.5,"y":0.05},{"p":"0.2, 0.4","k":"b","x":9.61,"y":0.3},{"p":"0.2, 0.4","k":"b","x":9.85,"y":0.3},

{"p":"0.1, 0.0","k":"a","x":6.25,"y":0.4},{"p":"0.1, 0.0","k":"a","x":6.56,"y":0.4},{"p":"0.1, 0.0","k":"a","x":6.66,"y":0.35},{"p":"0.1, 0.0","k":"a","x":6.74,"y":0.2},{"p":"0.1, 0.0","k":"a","x":6.85,"y":0.4},{"p":"0.1, 0.0","k":"a","x":7.28,"y":0.4},{"p":"0.1, 0.0","k":"a","x":7.44,"y":0.32},{"p":"0.1, 0.0","k":"a","x":7.58,"y":0.29},{"p":"0.1, 0.0","k":"a","x":7.74,"y":0.3},{"p":"0.1, 0.0","k":"a","x":7.87,"y":0.35},{"p":"0.1, 0.0","k":"a","x":7.96,"y":0.4},{"p":"0.1, 0.0","k":"a","x":8.06,"y":0.22},{"p":"0.1, 0.0","k":"a","x":8.16,"y":0.05},{"p":"0.1, 0.0","k":"a","x":8.25,"y":0},{"p":"0.1, 0.0","k":"a","x":9.85,"y":0},
{"p":"0.1, 0.0","k":"b","x":6.25,"y":0.4},{"p":"0.1, 0.0","k":"b","x":6.87,"y":0.4},{"p":"0.1, 0.0","k":"b","x":7.01,"y":0.36},{"p":"0.1, 0.0","k":"b","x":7.14,"y":0.16},{"p":"0.1, 0.0","k":"b","x":7.28,"y":0},{"p":"0.1, 0.0","k":"b","x":7.37,"y":0},{"p":"0.1, 0.0","k":"b","x":7.51,"y":0.25},{"p":"0.1, 0.0","k":"b","x":7.58,"y":0.27},{"p":"0.1, 0.0","k":"b","x":7.68,"y":0.07},{"p":"0.1, 0.0","k":"b","x":7.78,"y":0.15},{"p":"0.1, 0.0","k":"b","x":7.91,"y":0},{"p":"0.1, 0.0","k":"b","x":8.12,"y":0.25},{"p":"0.1, 0.0","k":"b","x":8.25,"y":0.36},{"p":"0.1, 0.0","k":"b","x":8.36,"y":0.4},{"p":"0.1, 0.0","k":"b","x":8.46,"y":0.4},{"p":"0.1, 0.0","k":"b","x":8.66,"y":0.1},{"p":"0.1, 0.0","k":"b","x":8.77,"y":0.3},{"p":"0.1, 0.0","k":"b","x":8.86,"y":0.25},{"p":"0.1, 0.0","k":"b","x":8.97,"y":0.3},{"p":"0.1, 0.0","k":"b","x":9.1,"y":0.15},{"p":"0.1, 0.0","k":"b","x":9.24,"y":0.1},{"p":"0.1, 0.0","k":"b","x":9.38,"y":0.14},{"p":"0.1, 0.0","k":"b","x":9.5,"y":0.16},{"p":"0.1, 0.0","k":"b","x":9.61,"y":0.14},{"p":"0.1, 0.0","k":"b","x":9.71,"y":0},{"p":"0.1, 0.0","k":"b","x":9.85,"y":0},

{"p":"0.1, 0.1","k":"a","x":6.25,"y":0.4},{"p":"0.1, 0.1","k":"a","x":6.52,"y":0.4},{"p":"0.1, 0.1","k":"a","x":6.63,"y":0.2},{"p":"0.1, 0.1","k":"a","x":6.72,"y":0.25},{"p":"0.1, 0.1","k":"a","x":6.79,"y":0.15},{"p":"0.1, 0.1","k":"a","x":6.86,"y":0.05},{"p":"0.1, 0.1","k":"a","x":6.96,"y":0.4},{"p":"0.1, 0.1","k":"a","x":7.46,"y":0.4},{"p":"0.1, 0.1","k":"a","x":7.57,"y":0.3},{"p":"0.1, 0.1","k":"a","x":7.67,"y":0.26},{"p":"0.1, 0.1","k":"a","x":7.8,"y":0.33},{"p":"0.1, 0.1","k":"a","x":7.89,"y":0.3},{"p":"0.1, 0.1","k":"a","x":7.97,"y":0.36},{"p":"0.1, 0.1","k":"a","x":8.07,"y":0.3},{"p":"0.1, 0.1","k":"a","x":8.2,"y":0.11},{"p":"0.1, 0.1","k":"a","x":8.31,"y":0},{"p":"0.1, 0.1","k":"a","x":9.85,"y":0},
{"p":"0.1, 0.1","k":"b","x":6.25,"y":0.4},{"p":"0.1, 0.1","k":"b","x":6.96,"y":0.4},{"p":"0.1, 0.1","k":"b","x":7.09,"y":0.32},{"p":"0.1, 0.1","k":"b","x":7.19,"y":0.16},{"p":"0.1, 0.1","k":"b","x":7.33,"y":0},{"p":"0.1, 0.1","k":"b","x":7.46,"y":0},{"p":"0.1, 0.1","k":"b","x":7.57,"y":0.22},{"p":"0.1, 0.1","k":"b","x":7.67,"y":0.2},{"p":"0.1, 0.1","k":"b","x":7.76,"y":0.07},{"p":"0.1, 0.1","k":"b","x":7.87,"y":0.12},{"p":"0.1, 0.1","k":"b","x":7.97,"y":0},{"p":"0.1, 0.1","k":"b","x":8.14,"y":0.16},{"p":"0.1, 0.1","k":"b","x":8.27,"y":0.3},{"p":"0.1, 0.1","k":"b","x":8.37,"y":0.4},{"p":"0.1, 0.1","k":"b","x":8.47,"y":0.35},{"p":"0.1, 0.1","k":"b","x":8.57,"y":0.4},{"p":"0.1, 0.1","k":"b","x":8.68,"y":0.3},{"p":"0.1, 0.1","k":"b","x":8.81,"y":0.4},{"p":"0.1, 0.1","k":"b","x":8.92,"y":0.3},{"p":"0.1, 0.1","k":"b","x":9.01,"y":0.4},{"p":"0.1, 0.1","k":"b","x":9.15,"y":0.22},{"p":"0.1, 0.1","k":"b","x":9.28,"y":0.05},{"p":"0.1, 0.1","k":"b","x":9.42,"y":0.1},{"p":"0.1, 0.1","k":"b","x":9.55,"y":0.15},{"p":"0.1, 0.1","k":"b","x":9.69,"y":0.12},{"p":"0.1, 0.1","k":"b","x":9.78,"y":0.05},{"p":"0.1, 0.1","k":"b","x":9.85,"y":0},

{"p":"0.1, 0.2","k":"a","x":6.25,"y":0.4},{"p":"0.1, 0.2","k":"a","x":6.47,"y":0.4},{"p":"0.1, 0.2","k":"a","x":6.61,"y":0.2},{"p":"0.1, 0.2","k":"a","x":6.74,"y":0.19},{"p":"0.1, 0.2","k":"a","x":6.84,"y":0.15},{"p":"0.1, 0.2","k":"a","x":6.93,"y":0.4},{"p":"0.1, 0.2","k":"a","x":7.52,"y":0.4},{"p":"0.1, 0.2","k":"a","x":7.65,"y":0.32},{"p":"0.1, 0.2","k":"a","x":7.79,"y":0.27},{"p":"0.1, 0.2","k":"a","x":7.92,"y":0.35},{"p":"0.1, 0.2","k":"a","x":8.03,"y":0.4},{"p":"0.1, 0.2","k":"a","x":8.15,"y":0.16},{"p":"0.1, 0.2","k":"a","x":8.26,"y":0.02},{"p":"0.1, 0.2","k":"a","x":8.35,"y":0},{"p":"0.1, 0.2","k":"a","x":9.85,"y":0},
{"p":"0.1, 0.2","k":"b","x":6.25,"y":0.4},{"p":"0.1, 0.2","k":"b","x":6.97,"y":0.4},{"p":"0.1, 0.2","k":"b","x":7.17,"y":0.15},{"p":"0.1, 0.2","k":"b","x":7.3,"y":0},{"p":"0.1, 0.2","k":"b","x":7.36,"y":0},{"p":"0.1, 0.2","k":"b","x":7.48,"y":0.17},{"p":"0.1, 0.2","k":"b","x":7.58,"y":0.27},{"p":"0.1, 0.2","k":"b","x":7.69,"y":0.22},{"p":"0.1, 0.2","k":"b","x":7.79,"y":0.08},{"p":"0.1, 0.2","k":"b","x":7.86,"y":0.11},{"p":"0.1, 0.2","k":"b","x":7.96,"y":0.14},{"p":"0.1, 0.2","k":"b","x":8.03,"y":0},{"p":"0.1, 0.2","k":"b","x":8.15,"y":0.08},{"p":"0.1, 0.2","k":"b","x":8.33,"y":0.3},{"p":"0.1, 0.2","k":"b","x":8.42,"y":0.4},{"p":"0.1, 0.2","k":"b","x":8.5,"y":0.4},{"p":"0.1, 0.2","k":"b","x":8.6,"y":0.34},{"p":"0.1, 0.2","k":"b","x":8.69,"y":0.25},{"p":"0.1, 0.2","k":"b","x":8.77,"y":0.1},{"p":"0.1, 0.2","k":"b","x":8.86,"y":0.3},{"p":"0.1, 0.2","k":"b","x":8.97,"y":0.4},{"p":"0.1, 0.2","k":"b","x":9.09,"y":0.3},{"p":"0.1, 0.2","k":"b","x":9.2,"y":0.15},{"p":"0.1, 0.2","k":"b","x":9.3,"y":0.15},{"p":"0.1, 0.2","k":"b","x":9.44,"y":0.3},{"p":"0.1, 0.2","k":"b","x":9.57,"y":0.3},{"p":"0.1, 0.2","k":"b","x":9.67,"y":0.16},{"p":"0.1, 0.2","k":"b","x":9.8,"y":0},{"p":"0.1, 0.2","k":"b","x":9.85,"y":0},

{"p":"0.1, 0.3","k":"a","x":6.25,"y":0.4},{"p":"0.1, 0.3","k":"a","x":6.49,"y":0.4},{"p":"0.1, 0.3","k":"a","x":6.59,"y":0.28},{"p":"0.1, 0.3","k":"a","x":6.72,"y":0.2},{"p":"0.1, 0.3","k":"a","x":6.85,"y":0.19},{"p":"0.1, 0.3","k":"a","x":6.96,"y":0.06},{"p":"0.1, 0.3","k":"a","x":7.08,"y":0.4},{"p":"0.1, 0.3","k":"a","x":7.59,"y":0.4},{"p":"0.1, 0.3","k":"a","x":7.8,"y":0.27},{"p":"0.1, 0.3","k":"a","x":7.93,"y":0.38},{"p":"0.1, 0.3","k":"a","x":8.04,"y":0.28},{"p":"0.1, 0.3","k":"a","x":8.16,"y":0.26},{"p":"0.1, 0.3","k":"a","x":8.29,"y":0.17},{"p":"0.1, 0.3","k":"a","x":8.4,"y":0},{"p":"0.1, 0.3","k":"a","x":9.85,"y":0},
{"p":"0.1, 0.3","k":"b","x":6.25,"y":0.4},{"p":"0.1, 0.3","k":"b","x":7.12,"y":0.4},{"p":"0.1, 0.3","k":"b","x":7.33,"y":0.14},{"p":"0.1, 0.3","k":"b","x":7.49,"y":0},{"p":"0.1, 0.3","k":"b","x":7.59,"y":0},{"p":"0.1, 0.3","k":"b","x":7.8,"y":0.32},{"p":"0.1, 0.3","k":"b","x":7.93,"y":0.19},{"p":"0.1, 0.3","k":"b","x":8.07,"y":0.1},{"p":"0.1, 0.3","k":"b","x":8.16,"y":0.08},{"p":"0.1, 0.3","k":"b","x":8.29,"y":0.17},{"p":"0.1, 0.3","k":"b","x":8.4,"y":0.24},{"p":"0.1, 0.3","k":"b","x":8.51,"y":0.4},{"p":"0.1, 0.3","k":"b","x":8.65,"y":0.36},{"p":"0.1, 0.3","k":"b","x":8.74,"y":0.4},{"p":"0.1, 0.3","k":"b","x":8.87,"y":0.3},{"p":"0.1, 0.3","k":"b","x":8.97,"y":0.4},{"p":"0.1, 0.3","k":"b","x":9.07,"y":0.3},{"p":"0.1, 0.3","k":"b","x":9.18,"y":0.4},{"p":"0.1, 0.3","k":"b","x":9.3,"y":0.28},{"p":"0.1, 0.3","k":"b","x":9.4,"y":0.05},{"p":"0.1, 0.3","k":"b","x":9.54,"y":0.3},{"p":"0.1, 0.3","k":"b","x":9.74,"y":0.3},{"p":"0.1, 0.3","k":"b","x":9.85,"y":0.1},

{"p":"0.1, 0.4","k":"a","x":6.25,"y":0.4},{"p":"0.1, 0.4","k":"a","x":6.65,"y":0.4},{"p":"0.1, 0.4","k":"a","x":6.79,"y":0.2},{"p":"0.1, 0.4","k":"a","x":6.9,"y":0.05},{"p":"0.1, 0.4","k":"a","x":6.99,"y":0},{"p":"0.1, 0.4","k":"a","x":7.12,"y":0},{"p":"0.1, 0.4","k":"a","x":7.23,"y":0.4},{"p":"0.1, 0.4","k":"a","x":7.7,"y":0.4},{"p":"0.1, 0.4","k":"a","x":7.89,"y":0.27},{"p":"0.1, 0.4","k":"a","x":8.02,"y":0.29},{"p":"0.1, 0.4","k":"a","x":8.13,"y":0.32},{"p":"0.1, 0.4","k":"a","x":8.27,"y":0.28},{"p":"0.1, 0.4","k":"a","x":8.37,"y":0.17},{"p":"0.1, 0.4","k":"a","x":8.47,"y":0},{"p":"0.1, 0.4","k":"a","x":9.85,"y":0},
{"p":"0.1, 0.4","k":"b","x":6.25,"y":0.36},{"p":"0.1, 0.4","k":"b","x":6.38,"y":0.4},{"p":"0.1, 0.4","k":"b","x":7.19,"y":0.4},{"p":"0.1, 0.4","k":"b","x":7.35,"y":0.28},{"p":"0.1, 0.4","k":"b","x":7.46,"y":0.08},{"p":"0.1, 0.4","k":"b","x":7.55,"y":0},{"p":"0.1, 0.4","k":"b","x":7.66,"y":0},{"p":"0.1, 0.4","k":"b","x":7.8,"y":0.22},{"p":"0.1, 0.4","k":"b","x":7.89,"y":0.28},{"p":"0.1, 0.4","k":"b","x":7.97,"y":0.22},{"p":"0.1, 0.4","k":"b","x":8.06,"y":0.12},{"p":"0.1, 0.4","k":"b","x":8.16,"y":0.13},{"p":"0.1, 0.4","k":"b","x":8.27,"y":0},{"p":"0.1, 0.4","k":"b","x":8.4,"y":0.16},{"p":"0.1, 0.4","k":"b","x":8.53,"y":0.25},{"p":"0.1, 0.4","k":"b","x":8.67,"y":0.4},{"p":"0.1, 0.4","k":"b","x":8.8,"y":0.38},{"p":"0.1, 0.4","k":"b","x":8.91,"y":0.3},{"p":"0.1, 0.4","k":"b","x":9.05,"y":0.4},{"p":"0.1, 0.4","k":"b","x":9.18,"y":0.4},{"p":"0.1, 0.4","k":"b","x":9.29,"y":0.34},{"p":"0.1, 0.4","k":"b","x":9.41,"y":0.15},{"p":"0.1, 0.4","k":"b","x":9.54,"y":0.35},{"p":"0.1, 0.4","k":"b","x":9.68,"y":0.3},{"p":"0.1, 0.4","k":"b","x":9.78,"y":0.29},{"p":"0.1, 0.4","k":"b","x":9.85,"y":0.2},

{"p":"0.0, 0.0","k":"a","x":6.25,"y":0.4},{"p":"0.0, 0.0","k":"a","x":6.6,"y":0.4},{"p":"0.0, 0.0","k":"a","x":6.74,"y":0.25},{"p":"0.0, 0.0","k":"a","x":6.87,"y":0.4},{"p":"0.0, 0.0","k":"a","x":7.37,"y":0.4},{"p":"0.0, 0.0","k":"a","x":7.48,"y":0.3},{"p":"0.0, 0.0","k":"a","x":7.58,"y":0.3},{"p":"0.0, 0.0","k":"a","x":7.67,"y":0.4},{"p":"0.0, 0.0","k":"a","x":7.78,"y":0.3},{"p":"0.0, 0.0","k":"a","x":7.91,"y":0.32},{"p":"0.0, 0.0","k":"a","x":8.01,"y":0.15},{"p":"0.0, 0.0","k":"a","x":8.12,"y":0},{"p":"0.0, 0.0","k":"a","x":9.85,"y":0},
{"p":"0.0, 0.0","k":"b","x":6.25,"y":0.4},{"p":"0.0, 0.0","k":"b","x":6.83,"y":0.4},{"p":"0.0, 0.0","k":"b","x":6.97,"y":0.2},{"p":"0.0, 0.0","k":"b","x":7.1,"y":0.03},{"p":"0.0, 0.0","k":"b","x":7.2,"y":0},{"p":"0.0, 0.0","k":"b","x":7.3,"y":0},{"p":"0.0, 0.0","k":"b","x":7.41,"y":0.23},{"p":"0.0, 0.0","k":"b","x":7.51,"y":0.18},{"p":"0.0, 0.0","k":"b","x":7.67,"y":0},{"p":"0.0, 0.0","k":"b","x":7.82,"y":0.17},{"p":"0.0, 0.0","k":"b","x":7.96,"y":0.28},{"p":"0.0, 0.0","k":"b","x":8.09,"y":0.4},{"p":"0.0, 0.0","k":"b","x":8.23,"y":0.3},{"p":"0.0, 0.0","k":"b","x":8.36,"y":0.4},{"p":"0.0, 0.0","k":"b","x":8.5,"y":0.17},{"p":"0.0, 0.0","k":"b","x":8.63,"y":0},{"p":"0.0, 0.0","k":"b","x":8.77,"y":0.25},{"p":"0.0, 0.0","k":"b","x":8.89,"y":0.4},{"p":"0.0, 0.0","k":"b","x":9.0,"y":0.23},{"p":"0.0, 0.0","k":"b","x":9.1,"y":0.05},{"p":"0.0, 0.0","k":"b","x":9.27,"y":0.11},{"p":"0.0, 0.0","k":"b","x":9.4,"y":0.15},{"p":"0.0, 0.0","k":"b","x":9.54,"y":0.15},{"p":"0.0, 0.0","k":"b","x":9.63,"y":0.08},{"p":"0.0, 0.0","k":"b","x":9.71,"y":0},{"p":"0.0, 0.0","k":"b","x":9.85,"y":0},

{"p":"0.0, 0.1","k":"a","x":6.25,"y":0.4},{"p":"0.0, 0.1","k":"a","x":6.57,"y":0.4},{"p":"0.0, 0.1","k":"a","x":6.74,"y":0.25},{"p":"0.0, 0.1","k":"a","x":6.82,"y":0.2},{"p":"0.0, 0.1","k":"a","x":6.9,"y":0.05},{"p":"0.0, 0.1","k":"a","x":6.98,"y":0.4},{"p":"0.0, 0.1","k":"a","x":7.59,"y":0.4},{"p":"0.0, 0.1","k":"a","x":7.71,"y":0.3},{"p":"0.0, 0.1","k":"a","x":7.87,"y":0.35},{"p":"0.0, 0.1","k":"a","x":7.99,"y":0.25},{"p":"0.0, 0.1","k":"a","x":8.11,"y":0.4},{"p":"0.0, 0.1","k":"a","x":8.31,"y":0},{"p":"0.0, 0.1","k":"a","x":9.85,"y":0},
{"p":"0.0, 0.1","k":"b","x":6.25,"y":0.4},{"p":"0.0, 0.1","k":"b","x":7.06,"y":0.4},{"p":"0.0, 0.1","k":"b","x":7.38,"y":0},{"p":"0.0, 0.1","k":"b","x":7.59,"y":0},{"p":"0.0, 0.1","k":"b","x":7.71,"y":0.23},{"p":"0.0, 0.1","k":"b","x":7.87,"y":0.1},{"p":"0.0, 0.1","k":"b","x":7.99,"y":0},{"p":"0.0, 0.1","k":"b","x":8.15,"y":0.2},{"p":"0.0, 0.1","k":"b","x":8.31,"y":0.4},{"p":"0.0, 0.1","k":"b","x":8.42,"y":0.3},{"p":"0.0, 0.1","k":"b","x":8.53,"y":0.4},{"p":"0.0, 0.1","k":"b","x":8.64,"y":0.4},{"p":"0.0, 0.1","k":"b","x":8.76,"y":0.25},{"p":"0.0, 0.1","k":"b","x":8.84,"y":0.4},{"p":"0.0, 0.1","k":"b","x":9.0,"y":0.2},{"p":"0.0, 0.1","k":"b","x":9.17,"y":0.05},{"p":"0.0, 0.1","k":"b","x":9.35,"y":0.12},{"p":"0.0, 0.1","k":"b","x":9.49,"y":0.15},{"p":"0.0, 0.1","k":"b","x":9.65,"y":0.15},{"p":"0.0, 0.1","k":"b","x":9.85,"y":0.1},

{"p":"0.0, 0.2","k":"a","x":6.25,"y":0.4},{"p":"0.0, 0.2","k":"a","x":6.49,"y":0.4},{"p":"0.0, 0.2","k":"a","x":6.7,"y":0.2},{"p":"0.0, 0.2","k":"a","x":6.83,"y":0.2},{"p":"0.0, 0.2","k":"a","x":6.97,"y":0.05},{"p":"0.0, 0.2","k":"a","x":7.06,"y":0.4},{"p":"0.0, 0.2","k":"a","x":7.58,"y":0.4},{"p":"0.0, 0.2","k":"a","x":7.7,"y":0.3},{"p":"0.0, 0.2","k":"a","x":7.85,"y":0.3},{"p":"0.0, 0.2","k":"a","x":7.95,"y":0.36},{"p":"0.0, 0.2","k":"a","x":8.05,"y":0.28},{"p":"0.0, 0.2","k":"a","x":8.15,"y":0.3},{"p":"0.0, 0.2","k":"a","x":8.27,"y":0.1},{"p":"0.0, 0.2","k":"a","x":8.38,"y":0},{"p":"0.0, 0.2","k":"a","x":9.85,"y":0},
{"p":"0.0, 0.2","k":"b","x":6.25,"y":0.37},{"p":"0.0, 0.2","k":"b","x":6.43,"y":0.4},{"p":"0.0, 0.2","k":"b","x":7.14,"y":0.4},{"p":"0.0, 0.2","k":"b","x":7.3,"y":0.15},{"p":"0.0, 0.2","k":"b","x":7.42,"y":0},{"p":"0.0, 0.2","k":"b","x":7.52,"y":0},{"p":"0.0, 0.2","k":"b","x":7.65,"y":0.2},{"p":"0.0, 0.2","k":"b","x":7.74,"y":0.26},{"p":"0.0, 0.2","k":"b","x":7.84,"y":0.1},{"p":"0.0, 0.2","k":"b","x":7.95,"y":0.15},{"p":"0.0, 0.2","k":"b","x":8.05,"y":0},{"p":"0.0, 0.2","k":"b","x":8.2,"y":0.2},{"p":"0.0, 0.2","k":"b","x":8.35,"y":0.3},{"p":"0.0, 0.2","k":"b","x":8.47,"y":0.4},{"p":"0.0, 0.2","k":"b","x":8.6,"y":0.36},{"p":"0.0, 0.2","k":"b","x":8.7,"y":0.4},{"p":"0.0, 0.2","k":"b","x":8.8,"y":0.25},{"p":"0.0, 0.2","k":"b","x":8.9,"y":0.4},{"p":"0.0, 0.2","k":"b","x":9.03,"y":0.3},{"p":"0.0, 0.2","k":"b","x":9.15,"y":0.4},{"p":"0.0, 0.2","k":"b","x":9.3,"y":0.1},{"p":"0.0, 0.2","k":"b","x":9.45,"y":0.2},{"p":"0.0, 0.2","k":"b","x":9.6,"y":0.3},{"p":"0.0, 0.2","k":"b","x":9.75,"y":0.3},{"p":"0.0, 0.2","k":"b","x":9.85,"y":0.2},

{"p":"0.0, 0.3","k":"a","x":6.25,"y":0.4},{"p":"0.0, 0.3","k":"a","x":6.55,"y":0.4},{"p":"0.0, 0.3","k":"a","x":6.7,"y":0.2},{"p":"0.0, 0.3","k":"a","x":6.85,"y":0.2},{"p":"0.0, 0.3","k":"a","x":6.97,"y":0.05},{"p":"0.0, 0.3","k":"a","x":7.09,"y":0.4},{"p":"0.0, 0.3","k":"a","x":7.6,"y":0.4},{"p":"0.0, 0.3","k":"a","x":7.78,"y":0.28},{"p":"0.0, 0.3","k":"a","x":7.93,"y":0.3},{"p":"0.0, 0.3","k":"a","x":8.05,"y":0.38},{"p":"0.0, 0.3","k":"a","x":8.15,"y":0.27},{"p":"0.0, 0.3","k":"a","x":8.28,"y":0.15},{"p":"0.0, 0.3","k":"a","x":8.42,"y":0},{"p":"0.0, 0.3","k":"a","x":9.85,"y":0},
{"p":"0.0, 0.3","k":"b","x":6.25,"y":0.38},{"p":"0.0, 0.3","k":"b","x":6.38,"y":0.4},{"p":"0.0, 0.3","k":"b","x":7.15,"y":0.4},{"p":"0.0, 0.3","k":"b","x":7.35,"y":0.15},{"p":"0.0, 0.3","k":"b","x":7.5,"y":0},{"p":"0.0, 0.3","k":"b","x":7.62,"y":0},{"p":"0.0, 0.3","k":"b","x":7.8,"y":0.32},{"p":"0.0, 0.3","k":"b","x":7.93,"y":0.2},{"p":"0.0, 0.3","k":"b","x":8.08,"y":0.1},{"p":"0.0, 0.3","k":"b","x":8.2,"y":0.1},{"p":"0.0, 0.3","k":"b","x":8.32,"y":0.2},{"p":"0.0, 0.3","k":"b","x":8.42,"y":0.25},{"p":"0.0, 0.3","k":"b","x":8.52,"y":0.4},{"p":"0.0, 0.3","k":"b","x":8.65,"y":0.36},{"p":"0.0, 0.3","k":"b","x":8.76,"y":0.4},{"p":"0.0, 0.3","k":"b","x":8.87,"y":0.3},{"p":"0.0, 0.3","k":"b","x":8.98,"y":0.4},{"p":"0.0, 0.3","k":"b","x":9.08,"y":0.3},{"p":"0.0, 0.3","k":"b","x":9.18,"y":0.4},{"p":"0.0, 0.3","k":"b","x":9.3,"y":0.3},{"p":"0.0, 0.3","k":"b","x":9.42,"y":0.15},{"p":"0.0, 0.3","k":"b","x":9.52,"y":0.05},{"p":"0.0, 0.3","k":"b","x":9.62,"y":0.3},{"p":"0.0, 0.3","k":"b","x":9.85,"y":0.3},

{"p":"0.0, 0.4","k":"a","x":6.25,"y":0.4},{"p":"0.0, 0.4","k":"a","x":6.65,"y":0.4},{"p":"0.0, 0.4","k":"a","x":6.8,"y":0.2},{"p":"0.0, 0.4","k":"a","x":6.92,"y":0.03},{"p":"0.0, 0.4","k":"a","x":7.0,"y":0},{"p":"0.0, 0.4","k":"a","x":7.1,"y":0},{"p":"0.0, 0.4","k":"a","x":7.2,"y":0.4},{"p":"0.0, 0.4","k":"a","x":7.7,"y":0.4},{"p":"0.0, 0.4","k":"a","x":7.85,"y":0.27},{"p":"0.0, 0.4","k":"a","x":8.0,"y":0.29},{"p":"0.0, 0.4","k":"a","x":8.12,"y":0.35},{"p":"0.0, 0.4","k":"a","x":8.25,"y":0.28},{"p":"0.0, 0.4","k":"a","x":8.37,"y":0.2},{"p":"0.0, 0.4","k":"a","x":8.5,"y":0},{"p":"0.0, 0.4","k":"a","x":9.85,"y":0},
{"p":"0.0, 0.4","k":"b","x":6.25,"y":0.38},{"p":"0.0, 0.4","k":"b","x":6.38,"y":0.4},{"p":"0.0, 0.4","k":"b","x":7.2,"y":0.4},{"p":"0.0, 0.4","k":"b","x":7.35,"y":0.28},{"p":"0.0, 0.4","k":"b","x":7.5,"y":0.05},{"p":"0.0, 0.4","k":"b","x":7.6,"y":0},{"p":"0.0, 0.4","k":"b","x":7.7,"y":0},{"p":"0.0, 0.4","k":"b","x":7.82,"y":0.22},{"p":"0.0, 0.4","k":"b","x":7.92,"y":0.3},{"p":"0.0, 0.4","k":"b","x":8.02,"y":0.2},{"p":"0.0, 0.4","k":"b","x":8.12,"y":0.12},{"p":"0.0, 0.4","k":"b","x":8.22,"y":0.1},{"p":"0.0, 0.4","k":"b","x":8.32,"y":0},{"p":"0.0, 0.4","k":"b","x":8.45,"y":0.2},{"p":"0.0, 0.4","k":"b","x":8.6,"y":0.4},{"p":"0.0, 0.4","k":"b","x":8.72,"y":0.4},{"p":"0.0, 0.4","k":"b","x":8.85,"y":0.3},{"p":"0.0, 0.4","k":"b","x":8.97,"y":0.4},{"p":"0.0, 0.4","k":"b","x":9.1,"y":0.4},{"p":"0.0, 0.4","k":"b","x":9.22,"y":0.3},{"p":"0.0, 0.4","k":"b","x":9.35,"y":0.4},{"p":"0.0, 0.4","k":"b","x":9.45,"y":0.2},{"p":"0.0, 0.4","k":"b","x":9.55,"y":0.35},{"p":"0.0, 0.4","k":"b","x":9.68,"y":0.25},{"p":"0.0, 0.4","k":"b","x":9.78,"y":0.35},{"p":"0.0, 0.4","k":"b","x":9.85,"y":0.1}
]},
"facet": {"field": "p", "type": "nominal",
  "sort": ["0.4, 0.0","0.4, 0.1","0.4, 0.2","0.4, 0.3","0.4, 0.4","0.3, 0.0","0.3, 0.1","0.3, 0.2","0.3, 0.3","0.3, 0.4","0.2, 0.0","0.2, 0.1","0.2, 0.2","0.2, 0.3","0.2, 0.4","0.1, 0.0","0.1, 0.1","0.1, 0.2","0.1, 0.3","0.1, 0.4","0.0, 0.0","0.0, 0.1","0.0, 0.2","0.0, 0.3","0.0, 0.4"],
  "header": {"title": null, "labelExpr": "'Xᶜ,Xˢ = ' + datum.value", "labelFont": "Liberation Sans", "labelFontSize": 13, "labelColor": "#000000", "labelPadding": -3}},
"columns": 5,
"spacing": {"row": 46, "column": 27.5},
"resolve": {"axis": {"x": "independent", "y": "independent"}},
"spec": {
  "width": 89, "height": 47,
  "mark": {"type": "line", "strokeWidth": 1, "clip": false},
  "encoding": {
    "x": {"field": "x", "type": "quantitative", "scale": {"domain": [6.25, 9.85], "nice": false, "zero": false}, "axis": {"values": [7, 8, 9], "format": "d", "title": null}},
    "y": {"field": "y", "type": "quantitative", "scale": {"domain": [0, 0.4], "nice": false}, "axis": {"values": [0, 0.2, 0.4], "format": "~g", "title": null}},
    "color": {"field": "k", "type": "nominal", "scale": {"domain": ["a", "b"], "range": ["#ff0000", "#0000ff"]}, "legend": null}
  }
},
"config": {
  "view": {"stroke": null},
  "font": "Liberation Sans",
  "axis": {"grid": true, "gridColor": "#e3e3e3", "gridWidth": 1, "domainColor": "#6e6e6e", "domainWidth": 1, "ticks": false, "labelFont": "Liberation Sans", "labelFontSize": 13, "labelColor": "#262626"},
  "axisX": {"labelPadding": 7},
  "axisY": {"labelPadding": 11}
}
}
